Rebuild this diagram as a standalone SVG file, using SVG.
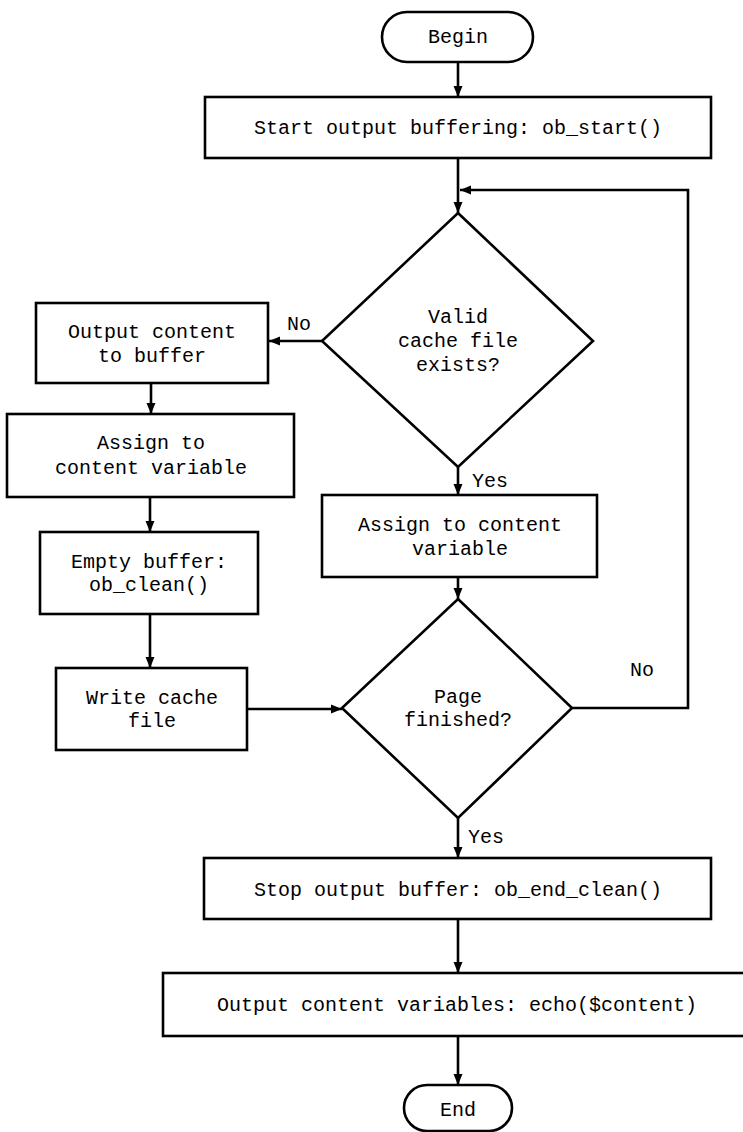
<svg xmlns="http://www.w3.org/2000/svg" width="743" height="1132" viewBox="0 0 743 1132">
<style>
.s{fill:#fff;stroke:#000;stroke-width:2.6}
.t{font-family:"Liberation Mono","Courier New",monospace;font-size:20px;fill:#000;text-anchor:middle;dominant-baseline:central}
.l{font-family:"Liberation Mono","Courier New",monospace;font-size:20px;fill:#000;dominant-baseline:central}
.c{fill:none;stroke:#000;stroke-width:2.6}
</style>
<defs>
<marker id="ah" markerUnits="userSpaceOnUse" markerWidth="12" markerHeight="10" refX="11" refY="5" orient="auto">
<path d="M0,0.5 L11,5 L0,9.5 z" fill="#000"/>
</marker>
</defs>
<rect width="743" height="1132" fill="#fff"/>
<g id="connectors">
<path class="c" d="M458,62 V97" marker-end="url(#ah)"/>
<path class="c" d="M458,158 V213" marker-end="url(#ah)"/>
<path class="c" d="M572,708 H688 V190 H460" marker-end="url(#ah)"/>
<path class="c" d="M322,341 H269" marker-end="url(#ah)"/>
<path class="c" d="M458,467 V495" marker-end="url(#ah)"/>
<path class="c" d="M151,383 V414" marker-end="url(#ah)"/>
<path class="c" d="M150,497 V532" marker-end="url(#ah)"/>
<path class="c" d="M150,614 V668" marker-end="url(#ah)"/>
<path class="c" d="M247,709 H342" marker-end="url(#ah)"/>
<path class="c" d="M458,577 V599" marker-end="url(#ah)"/>
<path class="c" d="M458,818 V858" marker-end="url(#ah)"/>
<path class="c" d="M458,919 V973" marker-end="url(#ah)"/>
<path class="c" d="M458,1036 V1085" marker-end="url(#ah)"/>
<text class="l" x="287" y="324">No</text>
<text class="l" x="472" y="481">Yes</text>
<text class="l" x="630" y="670">No</text>
<text class="l" x="468" y="837">Yes</text>
</g>
<g id="begin">
<rect class="s" x="382" y="12" width="151" height="50" rx="25"/>
<text class="t" x="458" y="37">Begin</text>
</g>
<g id="start">
<rect class="s" x="205" y="97" width="506" height="61"/>
<text class="t" x="458" y="128">Start output buffering: ob_start()</text>
</g>
<g id="valid">
<polygon class="s" points="458,213 593,341 458,467 322,341"/>
<text class="t" x="458" y="317">Valid</text>
<text class="t" x="458" y="341">cache file</text>
<text class="t" x="458" y="365">exists?</text>
</g>
<g id="outbuf">
<rect class="s" x="36" y="303" width="232" height="80"/>
<text class="t" x="152" y="332">Output content</text>
<text class="t" x="152" y="356">to buffer</text>
</g>
<g id="assignleft">
<rect class="s" x="7" y="414" width="287" height="83"/>
<text class="t" x="151" y="443">Assign to</text>
<text class="t" x="151" y="468">content variable</text>
</g>
<g id="empty">
<rect class="s" x="40" y="532" width="218" height="82"/>
<text class="t" x="149" y="562">Empty buffer:</text>
<text class="t" x="149" y="585">ob_clean()</text>
</g>
<g id="write">
<rect class="s" x="56" y="668" width="191" height="82"/>
<text class="t" x="152" y="698">Write cache</text>
<text class="t" x="152" y="721">file</text>
</g>
<g id="assignright">
<rect class="s" x="322" y="495" width="275" height="82"/>
<text class="t" x="460" y="525">Assign to content</text>
<text class="t" x="460" y="549">variable</text>
</g>
<g id="page">
<polygon class="s" points="458,599 572,708 458,818 342,708"/>
<text class="t" x="458" y="697">Page</text>
<text class="t" x="458" y="720">finished?</text>
</g>
<g id="stop">
<rect class="s" x="204" y="858" width="507" height="61"/>
<text class="t" x="458" y="890">Stop output buffer: ob_end_clean()</text>
</g>
<g id="output">
<rect class="s" x="163" y="973" width="588" height="63"/>
<text class="t" x="457" y="1005">Output content variables: echo($content)</text>
</g>
<g id="end">
<rect class="s" x="404" y="1085" width="108" height="46" rx="23"/>
<text class="t" x="458" y="1110">End</text>
</g>
</svg>
